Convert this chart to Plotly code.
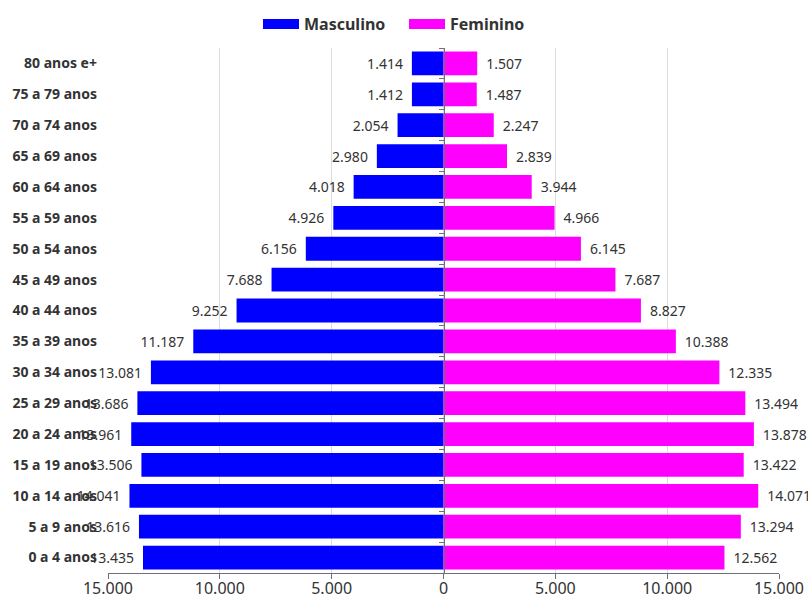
import plotly.graph_objects as go

categories = ["80 anos e+", "75 a 79 anos", "70 a 74 anos", "65 a 69 anos", "60 a 64 anos",
              "55 a 59 anos", "50 a 54 anos", "45 a 49 anos", "40 a 44 anos", "35 a 39 anos",
              "30 a 34 anos", "25 a 29 anos", "20 a 24 anos", "15 a 19 anos", "10 a 14 anos",
              "5 a 9 anos", "0 a 4 anos"]
masculino = [1414, 1412, 2054, 2980, 4018, 4926, 6156, 7688, 9252, 11187,
             13081, 13686, 13961, 13506, 14041, 13616, 13435]
feminino = [1507, 1487, 2247, 2839, 3944, 4966, 6145, 7687, 8827, 10388,
            12335, 13494, 13878, 13422, 14071, 13294, 12562]
x_tickvals = [-15000, -10000, -5000, 0, 5000, 10000, 15000]
x_ticktext = ["15.000", "10.000", "5.000", "0", "5.000", "10.000", "15.000"]


def fmt(v):
    return f"{v:,}".replace(",", ".")


FONT = "Noto Sans"
TXT = "#333333"
AXIS = "#6e7079"
BLUE = "#0000ff"
PINK = "#ff00ff"
PAD = "\u00a0\u2009"

fig = go.Figure()
fig.add_trace(go.Bar(
    name="Masculino", y=categories, x=[-v for v in masculino], orientation="h",
    marker=dict(color=BLUE, line=dict(width=0)),
    text=[fmt(v) + PAD for v in masculino], textposition="outside",
    outsidetextfont=dict(family=FONT, size=14, color=TXT),
    cliponaxis=False, constraintext="none", hoverinfo="skip", showlegend=False,
))
fig.add_trace(go.Bar(
    name="Feminino", y=categories, x=feminino, orientation="h",
    marker=dict(color=PINK, line=dict(width=0)),
    text=[PAD + fmt(v) for v in feminino], textposition="outside",
    outsidetextfont=dict(family=FONT, size=14, color=TXT),
    cliponaxis=False, constraintext="none", hoverinfo="skip", showlegend=False,
))
# legend entries (wide swatches)
for name, col in (("Masculino", BLUE), ("Feminino", PINK)):
    fig.add_trace(go.Scatter(
        x=[None], y=[None], name=name, mode="lines",
        line=dict(color=col, width=17), hoverinfo="skip", showlegend=True,
    ))
# invisible helper trace for the central category axis (line with boundary ticks)
fig.add_trace(go.Scatter(
    y=categories, x=[0] * len(categories), yaxis="y2", mode="markers",
    marker=dict(size=1, opacity=0), showlegend=False, hoverinfo="skip",
))

n = len(categories)
fig.update_layout(
    width=808, height=595,
    margin=dict(l=108, r=29, t=48, b=22, autoexpand=False),
    paper_bgcolor="white", plot_bgcolor="white",
    barmode="overlay", bargap=0.23,
    separators=",.",
    font=dict(family=FONT, color=TXT),
    showlegend=True,
    legend=dict(orientation="h", xref="container", x=0.5, xanchor="center",
                yref="container", y=1 - 24 / 595, yanchor="middle",
                font=dict(family=FONT, size=16, color=TXT, weight="bold"),
                itemwidth=36, entrywidth=95, traceorder="normal"),
    xaxis=dict(range=[-15000, 15000], tickvals=x_tickvals, ticktext=x_ticktext,
               automargin=False,
               showgrid=True, gridcolor="#dcdcdc", gridwidth=1, zeroline=False,
               showline=True, linecolor=AXIS, linewidth=1,
               ticks="outside", ticklen=5, tickcolor=AXIS, ticklabelstandoff=-4,
               tickfont=dict(family=FONT, size=16, color=TXT)),
    yaxis=dict(type="category", categoryorder="array", categoryarray=categories,
               automargin=False,
               range=[n - 0.5, -0.5], showgrid=False, zeroline=False, showline=False,
               ticks="", ticklabelstandoff=10,
               tickfont=dict(family=FONT, size=14, color=TXT, weight="bold")),
    yaxis2=dict(type="category", categoryorder="array", categoryarray=categories,
                automargin=False,
                range=[n - 0.5, -0.5], overlaying="y", anchor="free", position=0.5,
                side="left", showticklabels=False, showgrid=False, zeroline=False,
                showline=True, linecolor=AXIS, linewidth=1,
                ticks="outside", ticklen=5, tickcolor=AXIS, tickson="boundaries"),
)

fig.write_html("out.html")
